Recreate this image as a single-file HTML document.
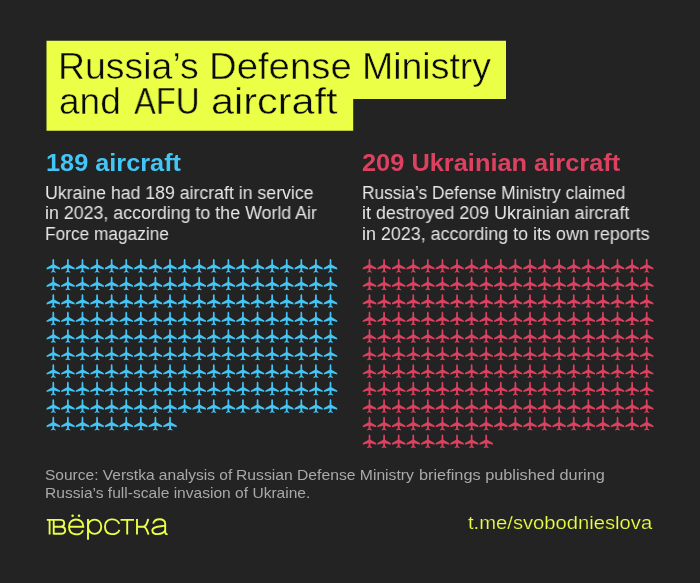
<!DOCTYPE html>
<html><head><meta charset='utf-8'><title>Russia's Defense Ministry and AFU aircraft</title>
<style>
html,body{margin:0;padding:0;background:#232323;}
#c{position:relative;width:700px;height:583px;background:#232323;overflow:hidden;font-family:"Liberation Sans",sans-serif;}
.t{position:absolute;white-space:nowrap;line-height:1;transform-origin:0 0;will-change:transform;}
.y{position:absolute;background:#eaff45;}
svg{position:absolute;left:0;top:0;}
</style></head><body>
<div id='c'>
<svg width='700' height='583' viewBox='0 0 700 583'>
<defs><path id='p' d='M7 0.1 C6.4 0.1 6.15 0.7 6.15 1.5 L6.1 5.5 L0.35 8.8 L0.25 10.4 L6.05 8.9 L6.05 11.7 L4.6 12.9 L4.6 13.7 L7 13.1 L9.4 13.7 L9.4 12.9 L7.95 11.7 L7.95 8.9 L13.75 10.4 L13.65 8.8 L7.9 5.5 L7.85 1.5 C7.85 0.7 7.6 0.1 7 0.1 Z'/></defs>
<path fill='#eaff45' d='M46.5 40.7 H506 V99.1 H353.2 V130.8 H46.5 Z'/>
<g fill='#43c6f6'>
<use href='#p' x='46.30' y='259.00'/><use href='#p' x='60.89' y='259.00'/><use href='#p' x='75.48' y='259.00'/><use href='#p' x='90.07' y='259.00'/><use href='#p' x='104.66' y='259.00'/><use href='#p' x='119.25' y='259.00'/><use href='#p' x='133.84' y='259.00'/><use href='#p' x='148.43' y='259.00'/><use href='#p' x='163.02' y='259.00'/><use href='#p' x='177.61' y='259.00'/><use href='#p' x='192.20' y='259.00'/><use href='#p' x='206.79' y='259.00'/><use href='#p' x='221.38' y='259.00'/><use href='#p' x='235.97' y='259.00'/><use href='#p' x='250.56' y='259.00'/><use href='#p' x='265.15' y='259.00'/><use href='#p' x='279.74' y='259.00'/><use href='#p' x='294.33' y='259.00'/><use href='#p' x='308.92' y='259.00'/><use href='#p' x='323.51' y='259.00'/>
<use href='#p' x='46.30' y='276.53'/><use href='#p' x='60.89' y='276.53'/><use href='#p' x='75.48' y='276.53'/><use href='#p' x='90.07' y='276.53'/><use href='#p' x='104.66' y='276.53'/><use href='#p' x='119.25' y='276.53'/><use href='#p' x='133.84' y='276.53'/><use href='#p' x='148.43' y='276.53'/><use href='#p' x='163.02' y='276.53'/><use href='#p' x='177.61' y='276.53'/><use href='#p' x='192.20' y='276.53'/><use href='#p' x='206.79' y='276.53'/><use href='#p' x='221.38' y='276.53'/><use href='#p' x='235.97' y='276.53'/><use href='#p' x='250.56' y='276.53'/><use href='#p' x='265.15' y='276.53'/><use href='#p' x='279.74' y='276.53'/><use href='#p' x='294.33' y='276.53'/><use href='#p' x='308.92' y='276.53'/><use href='#p' x='323.51' y='276.53'/>
<use href='#p' x='46.30' y='294.06'/><use href='#p' x='60.89' y='294.06'/><use href='#p' x='75.48' y='294.06'/><use href='#p' x='90.07' y='294.06'/><use href='#p' x='104.66' y='294.06'/><use href='#p' x='119.25' y='294.06'/><use href='#p' x='133.84' y='294.06'/><use href='#p' x='148.43' y='294.06'/><use href='#p' x='163.02' y='294.06'/><use href='#p' x='177.61' y='294.06'/><use href='#p' x='192.20' y='294.06'/><use href='#p' x='206.79' y='294.06'/><use href='#p' x='221.38' y='294.06'/><use href='#p' x='235.97' y='294.06'/><use href='#p' x='250.56' y='294.06'/><use href='#p' x='265.15' y='294.06'/><use href='#p' x='279.74' y='294.06'/><use href='#p' x='294.33' y='294.06'/><use href='#p' x='308.92' y='294.06'/><use href='#p' x='323.51' y='294.06'/>
<use href='#p' x='46.30' y='311.59'/><use href='#p' x='60.89' y='311.59'/><use href='#p' x='75.48' y='311.59'/><use href='#p' x='90.07' y='311.59'/><use href='#p' x='104.66' y='311.59'/><use href='#p' x='119.25' y='311.59'/><use href='#p' x='133.84' y='311.59'/><use href='#p' x='148.43' y='311.59'/><use href='#p' x='163.02' y='311.59'/><use href='#p' x='177.61' y='311.59'/><use href='#p' x='192.20' y='311.59'/><use href='#p' x='206.79' y='311.59'/><use href='#p' x='221.38' y='311.59'/><use href='#p' x='235.97' y='311.59'/><use href='#p' x='250.56' y='311.59'/><use href='#p' x='265.15' y='311.59'/><use href='#p' x='279.74' y='311.59'/><use href='#p' x='294.33' y='311.59'/><use href='#p' x='308.92' y='311.59'/><use href='#p' x='323.51' y='311.59'/>
<use href='#p' x='46.30' y='329.12'/><use href='#p' x='60.89' y='329.12'/><use href='#p' x='75.48' y='329.12'/><use href='#p' x='90.07' y='329.12'/><use href='#p' x='104.66' y='329.12'/><use href='#p' x='119.25' y='329.12'/><use href='#p' x='133.84' y='329.12'/><use href='#p' x='148.43' y='329.12'/><use href='#p' x='163.02' y='329.12'/><use href='#p' x='177.61' y='329.12'/><use href='#p' x='192.20' y='329.12'/><use href='#p' x='206.79' y='329.12'/><use href='#p' x='221.38' y='329.12'/><use href='#p' x='235.97' y='329.12'/><use href='#p' x='250.56' y='329.12'/><use href='#p' x='265.15' y='329.12'/><use href='#p' x='279.74' y='329.12'/><use href='#p' x='294.33' y='329.12'/><use href='#p' x='308.92' y='329.12'/><use href='#p' x='323.51' y='329.12'/>
<use href='#p' x='46.30' y='346.65'/><use href='#p' x='60.89' y='346.65'/><use href='#p' x='75.48' y='346.65'/><use href='#p' x='90.07' y='346.65'/><use href='#p' x='104.66' y='346.65'/><use href='#p' x='119.25' y='346.65'/><use href='#p' x='133.84' y='346.65'/><use href='#p' x='148.43' y='346.65'/><use href='#p' x='163.02' y='346.65'/><use href='#p' x='177.61' y='346.65'/><use href='#p' x='192.20' y='346.65'/><use href='#p' x='206.79' y='346.65'/><use href='#p' x='221.38' y='346.65'/><use href='#p' x='235.97' y='346.65'/><use href='#p' x='250.56' y='346.65'/><use href='#p' x='265.15' y='346.65'/><use href='#p' x='279.74' y='346.65'/><use href='#p' x='294.33' y='346.65'/><use href='#p' x='308.92' y='346.65'/><use href='#p' x='323.51' y='346.65'/>
<use href='#p' x='46.30' y='364.18'/><use href='#p' x='60.89' y='364.18'/><use href='#p' x='75.48' y='364.18'/><use href='#p' x='90.07' y='364.18'/><use href='#p' x='104.66' y='364.18'/><use href='#p' x='119.25' y='364.18'/><use href='#p' x='133.84' y='364.18'/><use href='#p' x='148.43' y='364.18'/><use href='#p' x='163.02' y='364.18'/><use href='#p' x='177.61' y='364.18'/><use href='#p' x='192.20' y='364.18'/><use href='#p' x='206.79' y='364.18'/><use href='#p' x='221.38' y='364.18'/><use href='#p' x='235.97' y='364.18'/><use href='#p' x='250.56' y='364.18'/><use href='#p' x='265.15' y='364.18'/><use href='#p' x='279.74' y='364.18'/><use href='#p' x='294.33' y='364.18'/><use href='#p' x='308.92' y='364.18'/><use href='#p' x='323.51' y='364.18'/>
<use href='#p' x='46.30' y='381.71'/><use href='#p' x='60.89' y='381.71'/><use href='#p' x='75.48' y='381.71'/><use href='#p' x='90.07' y='381.71'/><use href='#p' x='104.66' y='381.71'/><use href='#p' x='119.25' y='381.71'/><use href='#p' x='133.84' y='381.71'/><use href='#p' x='148.43' y='381.71'/><use href='#p' x='163.02' y='381.71'/><use href='#p' x='177.61' y='381.71'/><use href='#p' x='192.20' y='381.71'/><use href='#p' x='206.79' y='381.71'/><use href='#p' x='221.38' y='381.71'/><use href='#p' x='235.97' y='381.71'/><use href='#p' x='250.56' y='381.71'/><use href='#p' x='265.15' y='381.71'/><use href='#p' x='279.74' y='381.71'/><use href='#p' x='294.33' y='381.71'/><use href='#p' x='308.92' y='381.71'/><use href='#p' x='323.51' y='381.71'/>
<use href='#p' x='46.30' y='399.24'/><use href='#p' x='60.89' y='399.24'/><use href='#p' x='75.48' y='399.24'/><use href='#p' x='90.07' y='399.24'/><use href='#p' x='104.66' y='399.24'/><use href='#p' x='119.25' y='399.24'/><use href='#p' x='133.84' y='399.24'/><use href='#p' x='148.43' y='399.24'/><use href='#p' x='163.02' y='399.24'/><use href='#p' x='177.61' y='399.24'/><use href='#p' x='192.20' y='399.24'/><use href='#p' x='206.79' y='399.24'/><use href='#p' x='221.38' y='399.24'/><use href='#p' x='235.97' y='399.24'/><use href='#p' x='250.56' y='399.24'/><use href='#p' x='265.15' y='399.24'/><use href='#p' x='279.74' y='399.24'/><use href='#p' x='294.33' y='399.24'/><use href='#p' x='308.92' y='399.24'/><use href='#p' x='323.51' y='399.24'/>
<use href='#p' x='46.30' y='416.77'/><use href='#p' x='60.89' y='416.77'/><use href='#p' x='75.48' y='416.77'/><use href='#p' x='90.07' y='416.77'/><use href='#p' x='104.66' y='416.77'/><use href='#p' x='119.25' y='416.77'/><use href='#p' x='133.84' y='416.77'/><use href='#p' x='148.43' y='416.77'/><use href='#p' x='163.02' y='416.77'/>
</g>
<g fill='#dd4160'>
<use href='#p' x='362.50' y='259.00'/><use href='#p' x='377.09' y='259.00'/><use href='#p' x='391.68' y='259.00'/><use href='#p' x='406.27' y='259.00'/><use href='#p' x='420.86' y='259.00'/><use href='#p' x='435.45' y='259.00'/><use href='#p' x='450.04' y='259.00'/><use href='#p' x='464.63' y='259.00'/><use href='#p' x='479.22' y='259.00'/><use href='#p' x='493.81' y='259.00'/><use href='#p' x='508.40' y='259.00'/><use href='#p' x='522.99' y='259.00'/><use href='#p' x='537.58' y='259.00'/><use href='#p' x='552.17' y='259.00'/><use href='#p' x='566.76' y='259.00'/><use href='#p' x='581.35' y='259.00'/><use href='#p' x='595.94' y='259.00'/><use href='#p' x='610.53' y='259.00'/><use href='#p' x='625.12' y='259.00'/><use href='#p' x='639.71' y='259.00'/>
<use href='#p' x='362.50' y='276.53'/><use href='#p' x='377.09' y='276.53'/><use href='#p' x='391.68' y='276.53'/><use href='#p' x='406.27' y='276.53'/><use href='#p' x='420.86' y='276.53'/><use href='#p' x='435.45' y='276.53'/><use href='#p' x='450.04' y='276.53'/><use href='#p' x='464.63' y='276.53'/><use href='#p' x='479.22' y='276.53'/><use href='#p' x='493.81' y='276.53'/><use href='#p' x='508.40' y='276.53'/><use href='#p' x='522.99' y='276.53'/><use href='#p' x='537.58' y='276.53'/><use href='#p' x='552.17' y='276.53'/><use href='#p' x='566.76' y='276.53'/><use href='#p' x='581.35' y='276.53'/><use href='#p' x='595.94' y='276.53'/><use href='#p' x='610.53' y='276.53'/><use href='#p' x='625.12' y='276.53'/><use href='#p' x='639.71' y='276.53'/>
<use href='#p' x='362.50' y='294.06'/><use href='#p' x='377.09' y='294.06'/><use href='#p' x='391.68' y='294.06'/><use href='#p' x='406.27' y='294.06'/><use href='#p' x='420.86' y='294.06'/><use href='#p' x='435.45' y='294.06'/><use href='#p' x='450.04' y='294.06'/><use href='#p' x='464.63' y='294.06'/><use href='#p' x='479.22' y='294.06'/><use href='#p' x='493.81' y='294.06'/><use href='#p' x='508.40' y='294.06'/><use href='#p' x='522.99' y='294.06'/><use href='#p' x='537.58' y='294.06'/><use href='#p' x='552.17' y='294.06'/><use href='#p' x='566.76' y='294.06'/><use href='#p' x='581.35' y='294.06'/><use href='#p' x='595.94' y='294.06'/><use href='#p' x='610.53' y='294.06'/><use href='#p' x='625.12' y='294.06'/><use href='#p' x='639.71' y='294.06'/>
<use href='#p' x='362.50' y='311.59'/><use href='#p' x='377.09' y='311.59'/><use href='#p' x='391.68' y='311.59'/><use href='#p' x='406.27' y='311.59'/><use href='#p' x='420.86' y='311.59'/><use href='#p' x='435.45' y='311.59'/><use href='#p' x='450.04' y='311.59'/><use href='#p' x='464.63' y='311.59'/><use href='#p' x='479.22' y='311.59'/><use href='#p' x='493.81' y='311.59'/><use href='#p' x='508.40' y='311.59'/><use href='#p' x='522.99' y='311.59'/><use href='#p' x='537.58' y='311.59'/><use href='#p' x='552.17' y='311.59'/><use href='#p' x='566.76' y='311.59'/><use href='#p' x='581.35' y='311.59'/><use href='#p' x='595.94' y='311.59'/><use href='#p' x='610.53' y='311.59'/><use href='#p' x='625.12' y='311.59'/><use href='#p' x='639.71' y='311.59'/>
<use href='#p' x='362.50' y='329.12'/><use href='#p' x='377.09' y='329.12'/><use href='#p' x='391.68' y='329.12'/><use href='#p' x='406.27' y='329.12'/><use href='#p' x='420.86' y='329.12'/><use href='#p' x='435.45' y='329.12'/><use href='#p' x='450.04' y='329.12'/><use href='#p' x='464.63' y='329.12'/><use href='#p' x='479.22' y='329.12'/><use href='#p' x='493.81' y='329.12'/><use href='#p' x='508.40' y='329.12'/><use href='#p' x='522.99' y='329.12'/><use href='#p' x='537.58' y='329.12'/><use href='#p' x='552.17' y='329.12'/><use href='#p' x='566.76' y='329.12'/><use href='#p' x='581.35' y='329.12'/><use href='#p' x='595.94' y='329.12'/><use href='#p' x='610.53' y='329.12'/><use href='#p' x='625.12' y='329.12'/><use href='#p' x='639.71' y='329.12'/>
<use href='#p' x='362.50' y='346.65'/><use href='#p' x='377.09' y='346.65'/><use href='#p' x='391.68' y='346.65'/><use href='#p' x='406.27' y='346.65'/><use href='#p' x='420.86' y='346.65'/><use href='#p' x='435.45' y='346.65'/><use href='#p' x='450.04' y='346.65'/><use href='#p' x='464.63' y='346.65'/><use href='#p' x='479.22' y='346.65'/><use href='#p' x='493.81' y='346.65'/><use href='#p' x='508.40' y='346.65'/><use href='#p' x='522.99' y='346.65'/><use href='#p' x='537.58' y='346.65'/><use href='#p' x='552.17' y='346.65'/><use href='#p' x='566.76' y='346.65'/><use href='#p' x='581.35' y='346.65'/><use href='#p' x='595.94' y='346.65'/><use href='#p' x='610.53' y='346.65'/><use href='#p' x='625.12' y='346.65'/><use href='#p' x='639.71' y='346.65'/>
<use href='#p' x='362.50' y='364.18'/><use href='#p' x='377.09' y='364.18'/><use href='#p' x='391.68' y='364.18'/><use href='#p' x='406.27' y='364.18'/><use href='#p' x='420.86' y='364.18'/><use href='#p' x='435.45' y='364.18'/><use href='#p' x='450.04' y='364.18'/><use href='#p' x='464.63' y='364.18'/><use href='#p' x='479.22' y='364.18'/><use href='#p' x='493.81' y='364.18'/><use href='#p' x='508.40' y='364.18'/><use href='#p' x='522.99' y='364.18'/><use href='#p' x='537.58' y='364.18'/><use href='#p' x='552.17' y='364.18'/><use href='#p' x='566.76' y='364.18'/><use href='#p' x='581.35' y='364.18'/><use href='#p' x='595.94' y='364.18'/><use href='#p' x='610.53' y='364.18'/><use href='#p' x='625.12' y='364.18'/><use href='#p' x='639.71' y='364.18'/>
<use href='#p' x='362.50' y='381.71'/><use href='#p' x='377.09' y='381.71'/><use href='#p' x='391.68' y='381.71'/><use href='#p' x='406.27' y='381.71'/><use href='#p' x='420.86' y='381.71'/><use href='#p' x='435.45' y='381.71'/><use href='#p' x='450.04' y='381.71'/><use href='#p' x='464.63' y='381.71'/><use href='#p' x='479.22' y='381.71'/><use href='#p' x='493.81' y='381.71'/><use href='#p' x='508.40' y='381.71'/><use href='#p' x='522.99' y='381.71'/><use href='#p' x='537.58' y='381.71'/><use href='#p' x='552.17' y='381.71'/><use href='#p' x='566.76' y='381.71'/><use href='#p' x='581.35' y='381.71'/><use href='#p' x='595.94' y='381.71'/><use href='#p' x='610.53' y='381.71'/><use href='#p' x='625.12' y='381.71'/><use href='#p' x='639.71' y='381.71'/>
<use href='#p' x='362.50' y='399.24'/><use href='#p' x='377.09' y='399.24'/><use href='#p' x='391.68' y='399.24'/><use href='#p' x='406.27' y='399.24'/><use href='#p' x='420.86' y='399.24'/><use href='#p' x='435.45' y='399.24'/><use href='#p' x='450.04' y='399.24'/><use href='#p' x='464.63' y='399.24'/><use href='#p' x='479.22' y='399.24'/><use href='#p' x='493.81' y='399.24'/><use href='#p' x='508.40' y='399.24'/><use href='#p' x='522.99' y='399.24'/><use href='#p' x='537.58' y='399.24'/><use href='#p' x='552.17' y='399.24'/><use href='#p' x='566.76' y='399.24'/><use href='#p' x='581.35' y='399.24'/><use href='#p' x='595.94' y='399.24'/><use href='#p' x='610.53' y='399.24'/><use href='#p' x='625.12' y='399.24'/><use href='#p' x='639.71' y='399.24'/>
<use href='#p' x='362.50' y='416.77'/><use href='#p' x='377.09' y='416.77'/><use href='#p' x='391.68' y='416.77'/><use href='#p' x='406.27' y='416.77'/><use href='#p' x='420.86' y='416.77'/><use href='#p' x='435.45' y='416.77'/><use href='#p' x='450.04' y='416.77'/><use href='#p' x='464.63' y='416.77'/><use href='#p' x='479.22' y='416.77'/><use href='#p' x='493.81' y='416.77'/><use href='#p' x='508.40' y='416.77'/><use href='#p' x='522.99' y='416.77'/><use href='#p' x='537.58' y='416.77'/><use href='#p' x='552.17' y='416.77'/><use href='#p' x='566.76' y='416.77'/><use href='#p' x='581.35' y='416.77'/><use href='#p' x='595.94' y='416.77'/><use href='#p' x='610.53' y='416.77'/><use href='#p' x='625.12' y='416.77'/><use href='#p' x='639.71' y='416.77'/>
<use href='#p' x='362.50' y='434.30'/><use href='#p' x='377.09' y='434.30'/><use href='#p' x='391.68' y='434.30'/><use href='#p' x='406.27' y='434.30'/><use href='#p' x='420.86' y='434.30'/><use href='#p' x='435.45' y='434.30'/><use href='#p' x='450.04' y='434.30'/><use href='#p' x='464.63' y='434.30'/><use href='#p' x='479.22' y='434.30'/>
</g>
<g fill='none' stroke='#eaff45' stroke-width='1.9' stroke-linecap='butt' stroke-linejoin='miter'>
<path d='M46.8 519.9 H53.6 M49.6 519.9 V534.6'/>
<path d='M53.7 519 V534.6 M53.7 519.9 H60.5 C65.4 519.9 65.4 526.7 60.5 526.7 H53.7 M60.8 526.7 C66.7 526.7 66.7 533.7 60.8 533.7 H53.7'/>
<path d='M69.6 526.7 H83.3 C83.3 517.1 69 517.1 69 526.7 C69 536 81 536.4 83 530.2'/>
<path d='M88 519 V539.7 M88 526.7 C88 517.2 101.3 517.2 101.3 526.7 C101.3 536.2 88 536.2 88 526.7'/>
<path d='M119.3 523.8 C117 517.5 105 517.4 105 526.7 C105 536 117 536.1 119.5 529.8'/>
<path d='M120.5 519.9 H134 M127.2 519.9 V534.6'/>
<path d='M137 519 V534.6 M137 526.7 H143.3 M148.4 519 C147 522 146.8 526.7 143.3 526.7 C146.8 526.7 147 531.5 148.6 534.6'/>
<path d='M153.2 523.6 C154.5 517.8 165.2 517.6 165.2 523.8 V531.8 C165.2 533.8 166 534.4 167.6 534.1 M165.2 525.7 C161 526.8 152.3 525.8 152.3 530.6 C152.3 535.6 162.5 535 165.2 530.2'/>
</g>
<g fill='#eaff45'><circle cx='72.6' cy='515.7' r='1.25'/><circle cx='79' cy='515.7' r='1.25'/></g>
</svg>
<div class='t' style='left:57.58px;top:49.00px;font-size:36px;font-weight:400;color:#0a0a0a;-webkit-text-stroke:0.45px #eaff45;transform:scaleX(1.0395)'>Russia’s</div>
<div class='t' style='left:209.41px;top:49.00px;font-size:36px;font-weight:400;color:#0a0a0a;-webkit-text-stroke:0.45px #eaff45;transform:scaleX(1.0641)'>Defense</div>
<div class='t' style='left:362.38px;top:49.00px;font-size:36px;font-weight:400;color:#0a0a0a;-webkit-text-stroke:0.45px #eaff45;transform:scaleX(1.0407)'>Ministry</div>
<div class='t' style='left:59.16px;top:84.00px;font-size:36px;font-weight:400;color:#0a0a0a;-webkit-text-stroke:0.45px #eaff45;transform:scaleX(1.0293)'>and</div>
<div class='t' style='left:133.99px;top:84.00px;font-size:36px;font-weight:400;color:#0a0a0a;-webkit-text-stroke:0.45px #eaff45;transform:scaleX(0.9099)'>AFU</div>
<div class='t' style='left:210.88px;top:84.00px;font-size:36px;font-weight:400;color:#0a0a0a;-webkit-text-stroke:0.45px #eaff45;transform:scaleX(1.1492)'>aircraft</div>
<div class='t' style='left:45.55px;top:151.00px;font-size:24.5px;font-weight:700;color:#43c6f6;transform:scaleX(1.0326)'>189 aircraft</div>
<div class='t' style='left:362.19px;top:151.00px;font-size:24.5px;font-weight:700;color:#dd4160;transform:scaleX(1.0359)'>209 Ukrainian aircraft</div>
<div class='t' style='left:45.05px;top:184.00px;font-size:18px;font-weight:400;color:#e6e6e6;transform:scaleX(0.9834)'>Ukraine had 189 aircraft in service</div>
<div class='t' style='left:45.16px;top:204.00px;font-size:18px;font-weight:400;color:#e6e6e6;transform:scaleX(0.9896)'>in 2023, according to the World Air</div>
<div class='t' style='left:44.96px;top:225.00px;font-size:18px;font-weight:400;color:#e6e6e6;transform:scaleX(0.9602)'>Force magazine</div>
<div class='t' style='left:362.16px;top:184.00px;font-size:18px;font-weight:400;color:#e6e6e6;transform:scaleX(0.9615)'>Russia’s Defense Ministry claimed</div>
<div class='t' style='left:362.06px;top:204.00px;font-size:18px;font-weight:400;color:#e6e6e6;transform:scaleX(0.9931)'>it destroyed 209 Ukrainian aircraft</div>
<div class='t' style='left:362.06px;top:225.00px;font-size:18px;font-weight:400;color:#e6e6e6;transform:scaleX(0.9943)'>in 2023, according to its own reports</div>
<div class='t' style='left:44.82px;top:467.00px;font-size:15px;font-weight:400;color:#a9a9a9;transform:scaleX(1.0347)'>Source: Verstka analysis of</div>
<div class='t' style='left:236.09px;top:467.00px;font-size:15px;font-weight:400;color:#a9a9a9;transform:scaleX(1.0459)'>Russian Defense Ministry</div>
<div class='t' style='left:418.51px;top:467.00px;font-size:15px;font-weight:400;color:#a9a9a9;transform:scaleX(1.0870)'>briefings published during</div>
<div class='t' style='left:45.10px;top:485.00px;font-size:15px;font-weight:400;color:#a9a9a9;transform:scaleX(1.0379)'>Russia’s full-scale invasion of Ukraine.</div>
<div class='t' style='left:468.02px;top:514.00px;font-size:18px;font-weight:400;color:#eaff45;-webkit-text-stroke:0.2px #232323;transform:scaleX(1.1222)'>t.me/svobodnieslova</div>
</div>
</body></html>
